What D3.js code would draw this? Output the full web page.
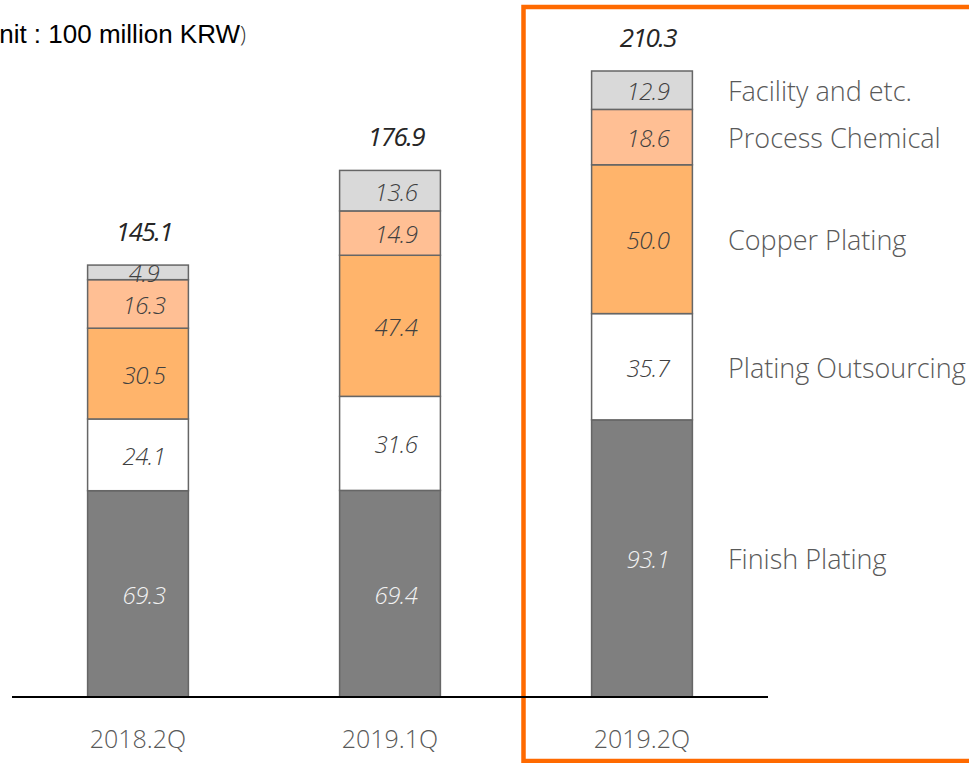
<!DOCTYPE html>
<head>
  <meta charset="utf-8">
  <script src="https://d3js.org/d3.v7.min.js"></script>
  <style>
    body { margin: 0; background: white; }
    svg { display: block; }
    .lbl { font-family: 'Open Sans', sans-serif; font-weight: 300; font-style: italic; font-size: 24px; letter-spacing: -0.5px; }
    .total { font-family: 'Open Sans', sans-serif; font-weight: 400; font-style: italic; font-size: 26px; fill: #262626; letter-spacing: -1.5px; }
    .legend, .cat { font-family: 'Open Sans', sans-serif; font-weight: 300; fill: #595959; }
    .legend { font-size: 27px; }
    .cat { font-size: 25px; }
    .unit { font-family: 'Liberation Sans', Arial, sans-serif; font-size: 26px; fill: #000; }
    .paren { font-family: 'Open Sans', sans-serif; font-weight: 300; font-size: 22px; fill: #333; }
  </style>
</head>

<body>
  <svg width="969" height="763"></svg>

  <script>
    const categories = ['2018.2Q', '2019.1Q', '2019.2Q'];
    const seriesNames = ['Finish Plating', 'Plating Outsourcing', 'Copper Plating', 'Process Chemical', 'Facility and etc.'];
    const finishPlating = [69.3, 69.4, 93.1];
    const platingOutsourcing = [24.1, 31.6, 35.7];
    const copperPlating = [30.5, 47.4, 50.0];
    const processChemical = [16.3, 14.9, 18.6];
    const facility = [4.9, 13.6, 12.9];
    const totals = [145.1, 176.9, 210.3];
    const colors = ['#7f7f7f', '#ffffff', '#ffb46b', '#ffbf94', '#d9d9d9'];
    const labelColors = ['#f2f2f2', '#404040', '#404040', '#404040', '#404040'];

    const svg = d3.select('svg');
    const baseY = 697;

    const series = [finishPlating, platingOutsourcing, copperPlating, processChemical, facility];
    const table = categories.map((c, i) => {
      const row = { cat: c };
      seriesNames.forEach((s, j) => { row[s] = series[j][i]; });
      return row;
    });
    const stacked = d3.stack().keys(seriesNames)(table);

    const x = d3.scaleBand()
      .domain(categories)
      .range([12, 768])
      .paddingInner(0.6)
      .paddingOuter(0.3);
    const y = d3.scaleLinear()
      .domain([0, 210.3])
      .range([baseY, 71]);

    // highlight box around the latest quarter
    svg.append('rect')
      .attr('x', 523.5)
      .attr('y', 7)
      .attr('width', 500)
      .attr('height', 754)
      .attr('fill', 'none')
      .attr('stroke', '#ff6a00')
      .attr('stroke-width', 4.5);

    // unit note, cut off at the left edge as in the original slide
    svg.append('text')
      .attr('class', 'unit')
      .attr('x', 240)
      .attr('y', 43)
      .attr('text-anchor', 'end')
      .text('(Unit : 100 million KRW');
    svg.append('text')
      .attr('class', 'paren')
      .attr('x', 240)
      .attr('y', 42)
      .text(')');

    const layers = svg.selectAll('.layer')
      .data(stacked)
      .enter().append('g')
      .attr('class', 'layer');

    layers.selectAll('rect')
      .data(d => d.map(p => ({ p, key: d.key, idx: d.index })))
      .enter().append('rect')
      .attr('x', d => x(d.p.data.cat))
      .attr('y', d => y(d.p[1]))
      .attr('width', x.bandwidth())
      .attr('height', d => y(d.p[0]) - y(d.p[1]))
      .attr('fill', d => colors[d.idx])
      .attr('stroke', '#666666')
      .attr('stroke-width', 1.5);

    layers.selectAll('text')
      .data(d => d.map(p => ({ p, idx: d.index })))
      .enter().append('text')
      .attr('class', 'lbl')
      .attr('x', d => x(d.p.data.cat) + x.bandwidth() / 2 + 6)
      .attr('y', d => (y(d.p[0]) + y(d.p[1])) / 2 + 10)
      .attr('text-anchor', 'middle')
      .attr('fill', d => labelColors[d.idx])
      .text(d => (d.p[1] - d.p[0]).toFixed(1));

    // totals
    svg.selectAll('.total')
      .data(categories)
      .enter().append('text')
      .attr('class', 'total')
      .attr('x', c => x(c) + x.bandwidth() / 2 + 6)
      .attr('y', (c, i) => y(totals[i]) - 24)
      .attr('text-anchor', 'middle')
      .text((c, i) => totals[i].toFixed(1));

    // baseline
    svg.append('line')
      .attr('x1', 12).attr('x2', 768)
      .attr('y1', baseY).attr('y2', baseY)
      .attr('stroke', '#000').attr('stroke-width', 2);

    svg.selectAll('.cat')
      .data(categories)
      .enter().append('text')
      .attr('class', 'cat')
      .attr('x', c => x(c) + x.bandwidth() / 2)
      .attr('y', 748)
      .attr('text-anchor', 'middle')
      .text(c => c);

    // legend beside the last bar
    const last = categories[categories.length - 1];
    svg.selectAll('.legend')
      .data(stacked)
      .enter().append('text')
      .attr('class', 'legend')
      .attr('x', 728)
      .attr('y', d => {
        const p = d.find(v => v.data.cat === last);
        return (y(p[0]) + y(p[1])) / 2 + 11;
      })
      .text(d => d.key);
  </script>
</body>
